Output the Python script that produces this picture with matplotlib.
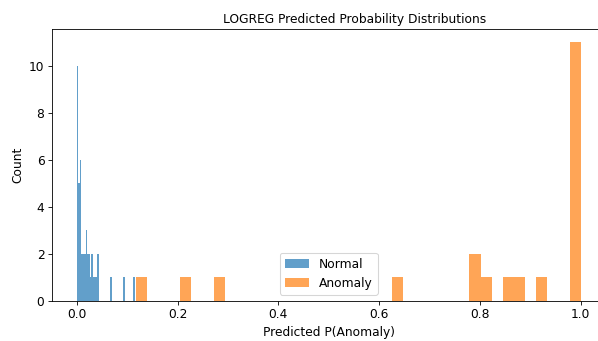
import numpy as np
import matplotlib
matplotlib.use("Agg")
import matplotlib.pyplot as plt

# Histogram counts per bin (40 bins each), as produced by the model's scores
normal_range = (0.0, 0.115)
normal_counts = [10, 5, 6, 2, 2, 2, 3, 2, 2, 1,
                 2, 1, 1, 1, 2, 0, 0, 0, 0, 0,
                 0, 0, 0, 1, 0, 0, 0, 0, 0, 0,
                 0, 0, 1, 0, 0, 0, 0, 0, 0, 1]

anomaly_range = (0.117, 1.0)
anomaly_counts = [1, 0, 0, 0, 1, 0, 0, 1, 0, 0,
                  0, 0, 0, 0, 0, 0, 0, 0, 0, 0,
                  0, 0, 0, 1, 0, 0, 0, 0, 0, 0,
                  2, 1, 0, 1, 1, 0, 1, 0, 0, 11]

labels = ["Normal", "Anomaly"]
n_bins = 40

dpi = 76
fs = 11.65
plt.rcParams["font.size"] = fs

fig = plt.figure(figsize=(598 / dpi, 341 / dpi), dpi=dpi)
ax = fig.add_axes([51.8 / 598, 40 / 341, 554 / 598, 271.8 / 341])

for rng, counts, label in [(normal_range, normal_counts, labels[0]),
                           (anomaly_range, anomaly_counts, labels[1])]:
    edges = np.linspace(rng[0], rng[1], n_bins + 1)
    centers = (edges[:-1] + edges[1:]) / 2
    ax.hist(centers, bins=edges, weights=counts, alpha=0.7, label=label)

ax.set_title("LOGREG Predicted Probability Distributions", fontsize=fs, x=0.546)
ax.set_xlabel("Predicted P(Anomaly)", fontsize=fs)
ax.set_ylabel("Count", fontsize=fs)
ax.tick_params(labelsize=fs)
ax.legend(loc="lower center", fontsize=fs)

fig.savefig("out.png", dpi=dpi)
